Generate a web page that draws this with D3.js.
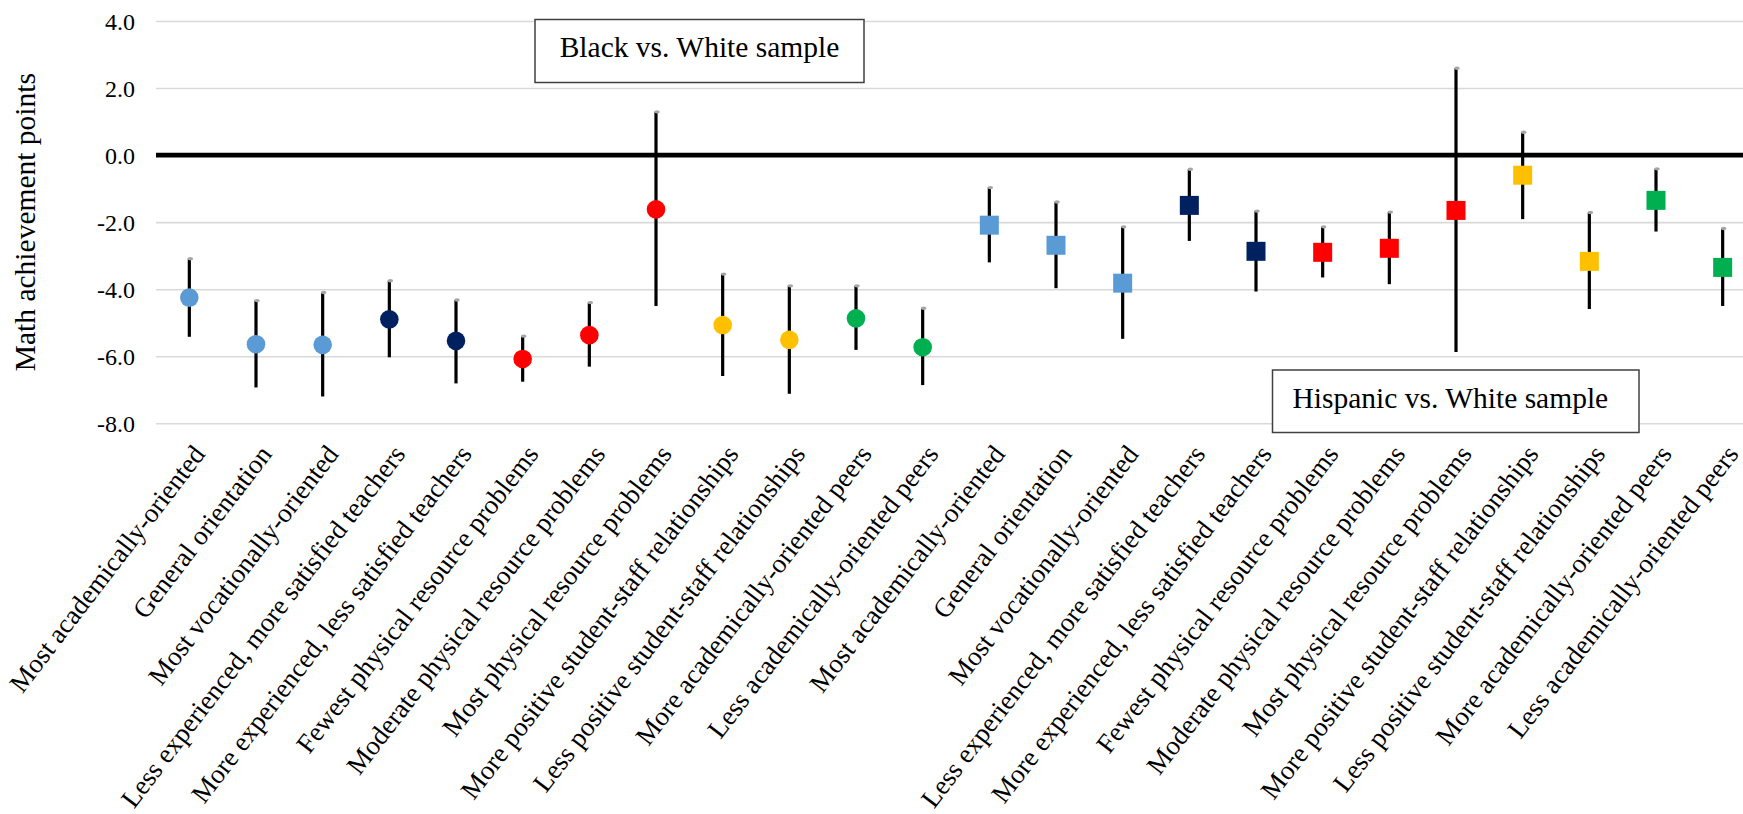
<!DOCTYPE html>
<html>
<head>
<meta charset="utf-8">
<script src="https://cdn.jsdelivr.net/npm/d3@7"></script>
<style>
  html, body { margin: 0; padding: 0; background: #fff; }
  svg { display: block; font-family: "Liberation Serif", "Times New Roman", serif; }
</style>
</head>
<body>
<svg id="chart" width="1743" height="814"></svg>
<script>
// School-characteristic contrasts, estimated gap in math achievement points
const categories = [
  "Most academically-oriented", "General orientation", "Most vocationally-oriented",
  "Less experienced, more satisfied teachers", "More experienced, less satisfied teachers",
  "Fewest physical resource problems", "Moderate physical resource problems", "Most physical resource problems",
  "More positive student-staff relationships", "Less positive student-staff relationships",
  "More academically-oriented peers", "Less academically-oriented peers",
  "Most academically-oriented", "General orientation", "Most vocationally-oriented",
  "Less experienced, more satisfied teachers", "More experienced, less satisfied teachers",
  "Fewest physical resource problems", "Moderate physical resource problems", "Most physical resource problems",
  "More positive student-staff relationships", "Less positive student-staff relationships",
  "More academically-oriented peers", "Less academically-oriented peers"
];
// Which comparison each point belongs to (0 = Black vs. White, 1 = Hispanic vs. White)
const sampleIndex = [0,0,0,0,0,0,0,0,0,0,0,0, 1,1,1,1,1,1,1,1,1,1,1,1];
const samples = ["Black vs. White sample", "Hispanic vs. White sample"];
// Characteristic domain of each point
const domainIndex = [0,0,0,1,1,2,2,2,3,3,4,4, 0,0,0,1,1,2,2,2,3,3,4,4];

const estimates = [-4.25, -5.64, -5.66, -4.90, -5.54, -6.08, -5.37, -1.62, -5.07, -5.51, -4.87, -5.73,
                   -2.09, -2.69, -3.82, -1.50, -2.87, -2.90, -2.78, -1.65, -0.60, -3.17, -1.35, -3.35];
const upperCI   = [-3.09, -4.34, -4.10, -3.75, -4.32, -5.40, -4.40,  1.29, -3.55, -3.90, -3.90, -4.57,
                   -0.97, -1.40, -2.14, -0.42, -1.67, -2.14, -1.70,  2.59,  0.68, -1.71, -0.41, -2.19];
const lowerCI   = [-5.42, -6.93, -7.20, -6.03, -6.81, -6.76, -6.31, -4.50, -6.59, -7.12, -5.81, -6.86,
                   -3.20, -3.97, -5.48, -2.56, -4.07, -3.65, -3.85, -5.87, -1.91, -4.59, -2.28, -4.50];

const yTicks = [4, 2, 0, -2, -4, -6, -8];
const yTickLabels = ["4.0", "2.0", "0.0", "-2.0", "-4.0", "-6.0", "-8.0"];

// Styling
const domainColors = ["#5B9BD5", "#002060", "#FF0000", "#FFC000", "#00B050"];

const svg = d3.select("#chart");
const W = 1743, H = 814;
svg.append("rect").attr("width", W).attr("height", H).attr("fill", "#fff");

const plot = { left: 156, right: 1756, top: 21, bottom: 423.3 };

const x = d3.scaleBand()
  .domain(d3.range(categories.length))
  .range([plot.left, plot.right]);
const cx = i => x(i) + x.bandwidth() / 2;

const y = d3.scaleLinear().domain([-8, 4]).range([plot.bottom, plot.top]);

// Gridlines
const yAxis = d3.axisLeft(y)
  .tickValues(yTicks)
  .tickSize(-(plot.right - plot.left))
  .tickFormat((d, i) => yTickLabels[i]);

const gAxis = svg.append("g")
  .attr("transform", `translate(${plot.left},0)`)
  .call(yAxis);
gAxis.select(".domain").remove();
gAxis.selectAll(".tick line")
  .attr("stroke", "#d9d9d9")
  .attr("stroke-width", 1.6);
gAxis.selectAll(".tick text")
  .attr("x", -21)
  .attr("dy", "0.34em")
  .attr("fill", "#000")
  .style("font-size", "24px")
  .style("font-family", "'Liberation Serif', 'Times New Roman', serif");

// Emphasised zero reference line
svg.append("line")
  .attr("x1", plot.left).attr("x2", plot.right)
  .attr("y1", y(0)).attr("y2", y(0))
  .attr("stroke", "#000")
  .attr("stroke-width", 4.6);

// Y axis title
svg.append("text")
  .attr("transform", `translate(35,${(plot.top + plot.bottom) / 2}) rotate(-90)`)
  .attr("text-anchor", "middle")
  .style("font-size", "29.5px")
  .attr("fill", "#000")
  .text("Math achievement points");

// Category labels
svg.append("g").selectAll("text")
  .data(categories)
  .join("text")
  .attr("transform", (d, i) => `translate(${cx(i) + 17},454.5) rotate(-52.5)`)
  .attr("text-anchor", "end")
  .style("font-size", "27px")
  .attr("fill", "#000")
  .text(d => d);

// Confidence intervals
const idx = d3.range(categories.length);
const bars = svg.append("g");
bars.selectAll("line")
  .data(idx)
  .join("line")
  .attr("x1", cx).attr("x2", cx)
  .attr("y1", i => y(upperCI[i]))
  .attr("y2", i => y(lowerCI[i]))
  .attr("stroke", "#000")
  .attr("stroke-width", 3.2);
bars.selectAll("ellipse")
  .data(idx)
  .join("ellipse")
  .attr("cx", i => cx(i) + 1)
  .attr("cy", i => y(upperCI[i]))
  .attr("rx", 2.8).attr("ry", 1.7)
  .attr("fill", "#a6a6a6");

// Point estimates: circles for the Black sample, squares for the Hispanic sample
const marks = svg.append("g");
marks.selectAll("circle")
  .data(idx.filter(i => sampleIndex[i] === 0))
  .join("circle")
  .attr("cx", cx)
  .attr("cy", i => y(estimates[i]))
  .attr("r", 9.3)
  .attr("fill", i => domainColors[domainIndex[i]]);
const sq = 19;
marks.selectAll("rect")
  .data(idx.filter(i => sampleIndex[i] === 1))
  .join("rect")
  .attr("x", i => cx(i) - sq / 2)
  .attr("y", i => y(estimates[i]) - sq / 2)
  .attr("width", sq).attr("height", sq)
  .attr("fill", i => domainColors[domainIndex[i]]);

// Sample annotation boxes
const boxes = [
  { text: samples[0], x: 535, y: 19.5, w: 329, h: 63, pad: null },
  { text: samples[1], x: 1272.5, y: 370, w: 366.5, h: 62.5, pad: 20 }
];
const gb = svg.append("g");
boxes.forEach(b => {
  gb.append("rect")
    .attr("x", b.x).attr("y", b.y).attr("width", b.w).attr("height", b.h)
    .attr("fill", "#fff")
    .attr("stroke", "#404040")
    .attr("stroke-width", 1.5);
  gb.append("text")
    .attr("x", b.pad == null ? b.x + b.w / 2 : b.x + b.pad)
    .attr("y", b.y + 37.5)
    .attr("text-anchor", b.pad == null ? "middle" : "start")
    .style("font-size", "29.5px")
    .attr("fill", "#000")
    .text(b.text);
});
</script>
</body>
</html>
